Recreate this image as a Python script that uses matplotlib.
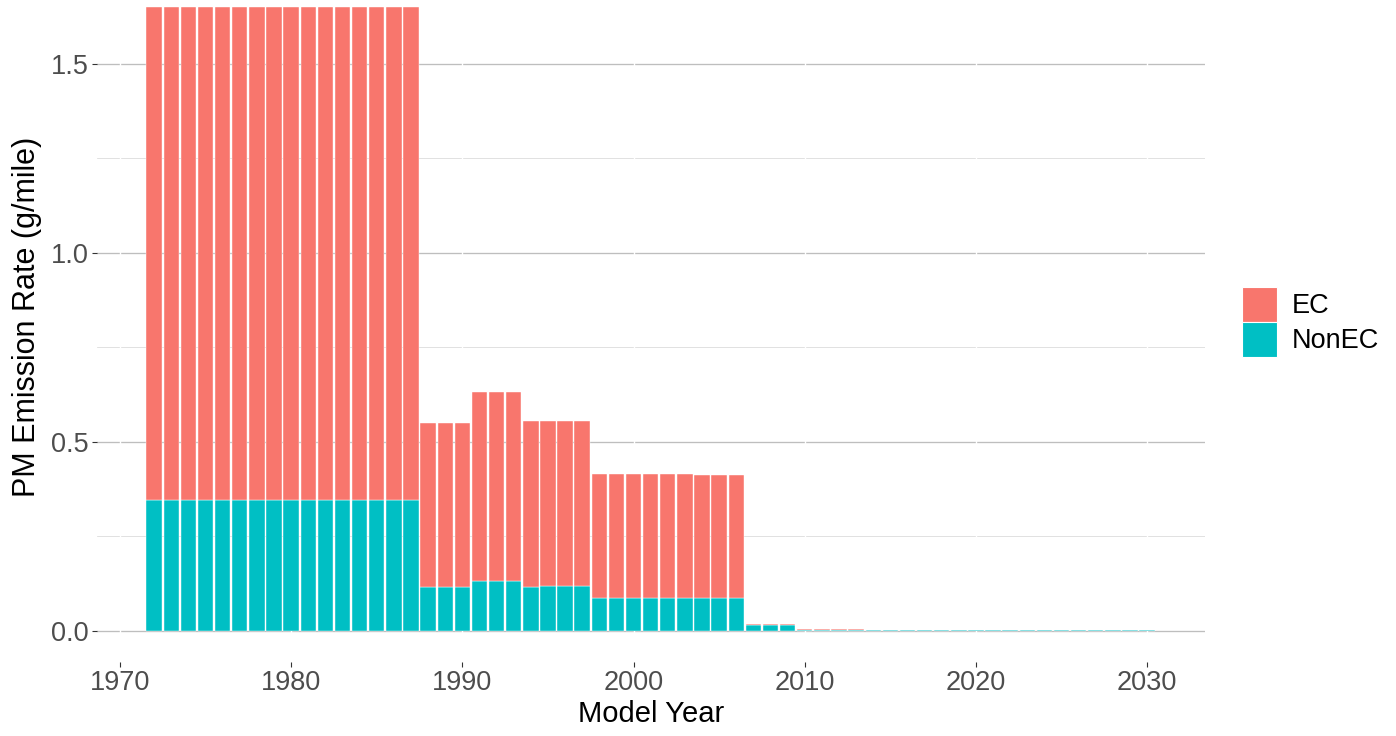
import matplotlib
matplotlib.use("Agg")
import matplotlib.pyplot as plt
from matplotlib.patches import Patch

plt.rcParams['font.family'] = ['Liberation Sans', 'DejaVu Sans']

# model years and emission rates (g/mile)
years = list(range(1972, 2031))
nonec = [0.347, 0.347, 0.347, 0.347, 0.347, 0.347, 0.347, 0.347,
         0.347, 0.347, 0.347, 0.347, 0.347, 0.347, 0.347, 0.347,
         0.116, 0.116, 0.116,
         0.133, 0.133, 0.133,
         0.116, 0.118, 0.118, 0.118,
         0.088, 0.088, 0.088, 0.088, 0.088, 0.088, 0.088, 0.088, 0.088,
         0.016, 0.016, 0.016,
         0.001, 0.001, 0.001, 0.001,
         0.0025, 0.0025, 0.0025, 0.0025, 0.0025, 0.0025, 0.0025, 0.0025, 0.0025,
         0.0025, 0.0025, 0.0025, 0.0025, 0.0025, 0.0025, 0.0025, 0.0025]
ec = [1.304, 1.304, 1.304, 1.304, 1.304, 1.304, 1.304, 1.304,
      1.304, 1.304, 1.304, 1.304, 1.304, 1.304, 1.304, 1.304,
      0.433, 0.433, 0.433,
      0.498, 0.498, 0.498,
      0.440, 0.436, 0.436, 0.436,
      0.327, 0.327, 0.327, 0.327, 0.327, 0.327, 0.324, 0.324, 0.324,
      0.003, 0.003, 0.003,
      0.003, 0.003, 0.003, 0.003,
      0.0005, 0.0005, 0.0005, 0.0005, 0.0005, 0.0005, 0.0005, 0.0005, 0.0005,
      0.0005, 0.0005, 0.0005, 0.0005, 0.0005, 0.0005, 0.0005, 0.0005]

series = ['EC', 'NonEC']
colors = {'EC': '#F8766D', 'NonEC': '#00BFC4'}
xticks = [1970, 1980, 1990, 2000, 2010, 2020, 2030]
yticks = [0.0, 0.5, 1.0, 1.5]
yminor = [0.25, 0.75, 1.25]

W, H = 1396, 736
fig = plt.figure(figsize=(W / 100, H / 100), dpi=100)
ax = fig.add_axes([97 / W, 74 / H, 1108 / W, 662 / H])

# grid: horizontal grey lines, white breaks at major years
for y in yticks:
    ax.axhline(y, color='#BEBEBE', lw=0.95, zorder=0.5)
for y in yminor:
    ax.axhline(y, color='#D9D9D9', lw=0.55, zorder=0.5)
for x in xticks:
    ax.axvline(x, color='white', lw=1.0, zorder=0.7)

ax.bar(years, nonec, width=0.9, color=colors['NonEC'], edgecolor='white',
       linewidth=0.3, zorder=2)
ax.bar(years, ec, width=0.9, bottom=nonec, color=colors['EC'],
       edgecolor='white', linewidth=0.3, zorder=2)

ax.set_xlim(1968.66, 2033.38)
ax.set_ylim(-0.0826, 1.669)
ax.set_xticks(xticks)
ax.set_xticklabels([str(x) for x in xticks])
ax.set_yticks(yticks)
ax.set_yticklabels(['0.0', '0.5', '1.0', '1.5'])
ax.tick_params(axis='both', length=3.6, width=0.8, color='#333333',
               labelcolor='#4D4D4D', labelsize=19.5, pad=2.5)

for s in ax.spines.values():
    s.set_visible(False)

ax.set_xlabel('Model Year', fontsize=21, color='black')
ax.set_ylabel('PM Emission Rate (g/mile)', fontsize=22, color='black')
ax.xaxis.set_label_coords(0.5, -0.058)
ax.yaxis.set_label_coords(-0.05, 0.521)

handles = [Patch(facecolor=colors[s], edgecolor='white', linewidth=0.8) for s in series]
fig.legend(handles, series, loc='center left',
           bbox_to_anchor=(1242 / W, 1 - 322 / H), frameon=False,
           fontsize=19.5, handlelength=1.3, handleheight=1.62,
           handletextpad=0.55, labelspacing=0.0, borderpad=0, borderaxespad=0)

fig.savefig('out.png', dpi=100)
